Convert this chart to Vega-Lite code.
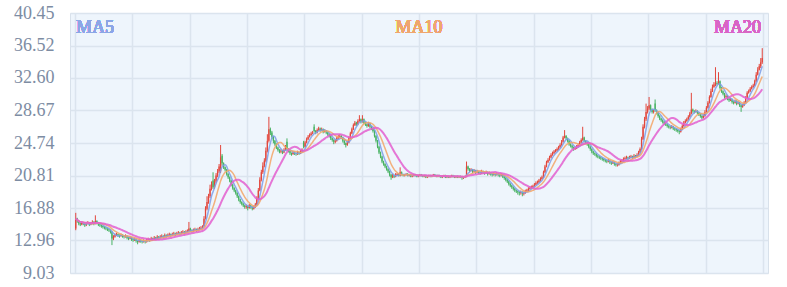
{
"$schema": "https://vega.github.io/schema/vega-lite/v6.json",
"width": 698, "height": 260,
"autosize": "none",
"padding": {"left": 70, "top": 13, "right": 19, "bottom": 14},
"background": "white",
"config": {"view": {"fill": "#eef5fc", "stroke": "#d8e1eb"}, "font": "Liberation Serif"},
"data": {"values": [
{"i":0,"o":14.4,"c":15.6,"h":16.3,"l":14.2},{"i":1,"o":15.6,"c":15.3,"h":15.7,"l":15.1},{"i":2,"o":15.3,"c":15.0,"h":15.4,"l":14.8},{"i":3,"o":15.0,"c":14.9,"h":15.1,"l":14.7},{"i":4,"o":14.9,"c":15.1,"h":15.3,"l":14.8},{"i":5,"o":15.1,"c":15.0,"h":15.2,"l":14.8},{"i":6,"o":15.0,"c":14.8,"h":15.1,"l":14.6},{"i":7,"o":14.8,"c":15.0,"h":15.2,"l":14.7},{"i":8,"o":15.0,"c":15.1,"h":15.3,"l":14.9},{"i":9,"o":15.1,"c":14.9,"h":15.2,"l":14.7},
{"i":10,"o":14.9,"c":15.0,"h":15.2,"l":14.8},{"i":11,"o":15.0,"c":15.2,"h":15.4,"l":14.9},{"i":12,"o":15.2,"c":15.0,"h":15.3,"l":14.8},{"i":13,"o":15.0,"c":15.3,"h":16.0,"l":14.9},{"i":14,"o":15.3,"c":15.1,"h":15.4,"l":14.9},{"i":15,"o":15.1,"c":14.9,"h":15.2,"l":14.7},{"i":16,"o":14.9,"c":14.8,"h":15.0,"l":14.6},{"i":17,"o":14.8,"c":14.7,"h":14.9,"l":14.5},{"i":18,"o":14.7,"c":14.6,"h":14.8,"l":14.4},{"i":19,"o":14.6,"c":14.5,"h":14.7,"l":14.3},
{"i":20,"o":14.5,"c":14.4,"h":14.6,"l":14.2},{"i":21,"o":14.4,"c":14.3,"h":14.5,"l":14.1},{"i":22,"o":14.3,"c":14.2,"h":14.4,"l":14.0},{"i":23,"o":14.2,"c":14.0,"h":14.3,"l":13.8},{"i":24,"o":14.0,"c":13.2,"h":14.1,"l":12.4},{"i":25,"o":13.2,"c":13.4,"h":13.6,"l":13.0},{"i":26,"o":13.4,"c":13.6,"h":13.8,"l":13.3},{"i":27,"o":13.6,"c":13.7,"h":13.9,"l":13.5},{"i":28,"o":13.7,"c":13.6,"h":13.8,"l":13.4},{"i":29,"o":13.6,"c":13.5,"h":13.7,"l":13.3},
{"i":30,"o":13.5,"c":13.6,"h":13.8,"l":13.4},{"i":31,"o":13.6,"c":13.5,"h":13.7,"l":13.3},{"i":32,"o":13.5,"c":13.4,"h":13.6,"l":13.2},{"i":33,"o":13.4,"c":13.5,"h":13.7,"l":13.3},{"i":34,"o":13.5,"c":13.3,"h":13.6,"l":13.1},{"i":35,"o":13.3,"c":13.2,"h":13.4,"l":13.0},{"i":36,"o":13.2,"c":13.3,"h":13.5,"l":13.1},{"i":37,"o":13.3,"c":13.1,"h":13.4,"l":12.9},{"i":38,"o":13.1,"c":13.0,"h":13.2,"l":12.8},{"i":39,"o":13.0,"c":13.1,"h":13.3,"l":12.9},
{"i":40,"o":13.1,"c":12.9,"h":13.2,"l":12.7},{"i":41,"o":12.9,"c":12.8,"h":13.0,"l":12.5},{"i":42,"o":12.8,"c":13.0,"h":13.2,"l":12.7},{"i":43,"o":13.0,"c":12.9,"h":13.1,"l":12.7},{"i":44,"o":12.9,"c":12.8,"h":13.0,"l":12.6},{"i":45,"o":12.8,"c":12.9,"h":13.1,"l":12.7},{"i":46,"o":12.9,"c":12.8,"h":13.0,"l":12.6},{"i":47,"o":12.8,"c":13.0,"h":13.2,"l":12.7},{"i":48,"o":13.0,"c":13.1,"h":13.3,"l":12.9},{"i":49,"o":13.1,"c":13.0,"h":13.2,"l":12.8},
{"i":50,"o":13.0,"c":13.2,"h":13.4,"l":12.9},{"i":51,"o":13.2,"c":13.1,"h":13.3,"l":12.9},{"i":52,"o":13.1,"c":13.3,"h":13.5,"l":13.0},{"i":53,"o":13.3,"c":13.2,"h":13.4,"l":13.0},{"i":54,"o":13.2,"c":13.4,"h":13.6,"l":13.1},{"i":55,"o":13.4,"c":13.3,"h":13.5,"l":13.1},{"i":56,"o":13.3,"c":13.4,"h":13.6,"l":13.2},{"i":57,"o":13.4,"c":13.5,"h":13.7,"l":13.3},{"i":58,"o":13.5,"c":13.4,"h":13.6,"l":13.2},{"i":59,"o":13.4,"c":13.6,"h":13.8,"l":13.3},
{"i":60,"o":13.6,"c":13.5,"h":13.7,"l":13.3},{"i":61,"o":13.5,"c":13.6,"h":13.8,"l":13.4},{"i":62,"o":13.6,"c":13.7,"h":13.9,"l":13.5},{"i":63,"o":13.7,"c":13.6,"h":13.8,"l":13.4},{"i":64,"o":13.6,"c":13.7,"h":13.9,"l":13.5},{"i":65,"o":13.7,"c":13.8,"h":14.0,"l":13.6},{"i":66,"o":13.8,"c":13.7,"h":13.9,"l":13.5},{"i":67,"o":13.7,"c":13.8,"h":14.0,"l":13.6},{"i":68,"o":13.8,"c":13.9,"h":14.1,"l":13.7},{"i":69,"o":13.9,"c":13.8,"h":14.0,"l":13.6},
{"i":70,"o":13.8,"c":13.9,"h":14.1,"l":13.7},{"i":71,"o":13.9,"c":14.0,"h":14.2,"l":13.8},{"i":72,"o":14.0,"c":13.9,"h":14.1,"l":13.7},{"i":73,"o":13.9,"c":14.0,"h":14.2,"l":13.8},{"i":74,"o":14.0,"c":14.1,"h":14.3,"l":13.9},{"i":75,"o":14.1,"c":14.4,"h":15.2,"l":14.0},{"i":76,"o":14.4,"c":14.2,"h":14.5,"l":14.0},{"i":77,"o":14.2,"c":14.1,"h":14.3,"l":13.9},{"i":78,"o":14.1,"c":14.2,"h":14.4,"l":14.0},{"i":79,"o":14.2,"c":14.3,"h":14.5,"l":14.1},
{"i":80,"o":14.3,"c":14.2,"h":14.4,"l":14.0},{"i":81,"o":14.2,"c":14.3,"h":14.5,"l":14.1},{"i":82,"o":14.3,"c":14.4,"h":14.6,"l":14.2},{"i":83,"o":14.4,"c":14.5,"h":14.7,"l":14.3},{"i":84,"o":14.5,"c":14.6,"h":14.8,"l":14.4},{"i":85,"o":14.7,"c":15.6,"h":15.9,"l":14.6},{"i":86,"o":15.6,"c":16.8,"h":17.1,"l":15.5},{"i":87,"o":16.8,"c":17.6,"h":18.3,"l":16.6},{"i":88,"o":17.6,"c":18.3,"h":18.6,"l":17.4},{"i":89,"o":18.3,"c":19.2,"h":19.7,"l":18.1},
{"i":90,"o":19.2,"c":19.8,"h":20.1,"l":19.0},{"i":91,"o":20.2,"c":19.4,"h":21.2,"l":19.2},{"i":92,"o":19.4,"c":20.1,"h":20.4,"l":19.2},{"i":93,"o":20.1,"c":20.8,"h":21.1,"l":19.9},{"i":94,"o":20.8,"c":21.3,"h":21.6,"l":20.6},{"i":95,"o":21.3,"c":21.9,"h":22.2,"l":21.1},{"i":96,"o":21.3,"c":23.0,"h":24.5,"l":21.1},{"i":97,"o":23.2,"c":22.3,"h":23.4,"l":22.0},{"i":98,"o":22.3,"c":21.8,"h":22.4,"l":21.6},{"i":99,"o":21.8,"c":21.5,"h":21.9,"l":21.3},
{"i":100,"o":21.5,"c":21.0,"h":21.6,"l":20.8},{"i":101,"o":21.0,"c":20.6,"h":21.1,"l":20.4},{"i":102,"o":20.6,"c":20.2,"h":20.7,"l":20.0},{"i":103,"o":20.2,"c":19.7,"h":20.3,"l":19.5},{"i":104,"o":19.7,"c":19.3,"h":19.8,"l":19.1},{"i":105,"o":19.3,"c":19.0,"h":19.4,"l":18.8},{"i":106,"o":19.0,"c":18.7,"h":19.1,"l":18.5},{"i":107,"o":18.7,"c":18.3,"h":18.8,"l":18.1},{"i":108,"o":18.3,"c":17.9,"h":18.4,"l":17.7},{"i":109,"o":17.9,"c":17.6,"h":18.0,"l":17.4},
{"i":110,"o":17.6,"c":17.4,"h":17.7,"l":17.2},{"i":111,"o":17.4,"c":17.2,"h":17.5,"l":17.0},{"i":112,"o":17.2,"c":17.0,"h":17.3,"l":16.8},{"i":113,"o":17.0,"c":17.1,"h":17.3,"l":16.8},{"i":114,"o":17.1,"c":16.9,"h":17.2,"l":16.6},{"i":115,"o":16.9,"c":17.2,"h":17.4,"l":16.8},{"i":116,"o":17.2,"c":17.0,"h":17.3,"l":16.8},{"i":117,"o":17.0,"c":16.8,"h":17.1,"l":16.6},{"i":118,"o":16.8,"c":17.0,"h":17.2,"l":16.7},{"i":119,"o":17.0,"c":17.3,"h":17.5,"l":16.9},
{"i":120,"o":17.3,"c":18.0,"h":18.3,"l":17.2},{"i":121,"o":18.0,"c":19.0,"h":19.3,"l":17.9},{"i":122,"o":19.0,"c":20.3,"h":20.6,"l":18.9},{"i":123,"o":20.3,"c":21.2,"h":21.5,"l":20.1},{"i":124,"o":21.2,"c":22.0,"h":22.4,"l":21.0},{"i":125,"o":22.0,"c":22.6,"h":22.9,"l":21.8},{"i":126,"o":22.6,"c":23.8,"h":24.2,"l":22.4},{"i":127,"o":23.8,"c":25.0,"h":25.8,"l":23.6},{"i":128,"o":25.0,"c":26.4,"h":27.9,"l":24.8},{"i":129,"o":26.4,"c":26.0,"h":26.6,"l":25.7},
{"i":130,"o":26.0,"c":25.5,"h":26.2,"l":25.2},{"i":131,"o":25.5,"c":25.0,"h":25.6,"l":24.7},{"i":132,"o":25.0,"c":24.6,"h":25.1,"l":24.4},{"i":133,"o":24.6,"c":24.2,"h":24.7,"l":24.0},{"i":134,"o":24.2,"c":23.9,"h":24.3,"l":23.7},{"i":135,"o":23.9,"c":23.7,"h":24.0,"l":23.5},{"i":136,"o":23.7,"c":23.8,"h":24.0,"l":23.5},{"i":137,"o":23.8,"c":23.6,"h":23.9,"l":23.4},{"i":138,"o":23.6,"c":23.9,"h":24.1,"l":23.5},{"i":139,"o":23.9,"c":24.3,"h":24.5,"l":23.8},
{"i":140,"o":24.9,"c":24.0,"h":25.3,"l":23.8},{"i":141,"o":24.0,"c":23.8,"h":24.1,"l":23.6},{"i":142,"o":23.8,"c":23.5,"h":23.9,"l":23.3},{"i":143,"o":23.5,"c":23.4,"h":23.6,"l":23.2},{"i":144,"o":23.4,"c":23.6,"h":23.8,"l":23.3},{"i":145,"o":23.6,"c":23.5,"h":23.7,"l":23.3},{"i":146,"o":23.5,"c":23.4,"h":23.6,"l":23.2},{"i":147,"o":23.4,"c":23.6,"h":23.8,"l":23.3},{"i":148,"o":23.6,"c":23.5,"h":23.7,"l":23.3},{"i":149,"o":23.5,"c":23.7,"h":23.9,"l":23.4},
{"i":150,"o":23.7,"c":23.9,"h":24.1,"l":23.6},{"i":151,"o":24.8,"c":24.3,"h":25.0,"l":24.1},{"i":152,"o":24.3,"c":24.8,"h":25.0,"l":24.2},{"i":153,"o":24.8,"c":25.2,"h":25.4,"l":24.7},{"i":154,"o":25.2,"c":25.5,"h":25.7,"l":25.1},{"i":155,"o":25.5,"c":25.7,"h":25.9,"l":25.4},{"i":156,"o":25.7,"c":25.9,"h":26.1,"l":25.6},{"i":157,"o":25.9,"c":26.0,"h":26.2,"l":25.8},{"i":158,"o":26.7,"c":26.2,"h":27.0,"l":26.0},{"i":159,"o":26.2,"c":26.0,"h":26.3,"l":25.8},
{"i":160,"o":26.0,"c":26.3,"h":26.5,"l":25.9},{"i":161,"o":26.3,"c":26.5,"h":26.7,"l":26.2},{"i":162,"o":26.5,"c":26.3,"h":26.6,"l":26.1},{"i":163,"o":26.3,"c":26.4,"h":26.6,"l":26.2},{"i":164,"o":26.4,"c":26.1,"h":26.5,"l":25.9},{"i":165,"o":26.1,"c":26.2,"h":26.4,"l":26.0},{"i":166,"o":26.2,"c":26.0,"h":26.3,"l":25.8},{"i":167,"o":26.0,"c":25.8,"h":26.1,"l":25.6},{"i":168,"o":25.8,"c":25.6,"h":25.9,"l":25.4},{"i":169,"o":25.6,"c":25.3,"h":25.7,"l":25.1},
{"i":170,"o":25.3,"c":25.1,"h":25.4,"l":24.9},{"i":171,"o":25.1,"c":24.9,"h":25.2,"l":24.6},{"i":172,"o":24.9,"c":25.0,"h":25.2,"l":24.7},{"i":173,"o":25.0,"c":25.3,"h":25.5,"l":24.9},{"i":174,"o":25.3,"c":25.5,"h":25.7,"l":25.2},{"i":175,"o":25.5,"c":25.6,"h":25.8,"l":25.4},{"i":176,"o":25.6,"c":25.4,"h":25.7,"l":25.2},{"i":177,"o":25.4,"c":25.0,"h":25.5,"l":24.8},{"i":178,"o":25.0,"c":24.7,"h":25.1,"l":24.5},{"i":179,"o":24.7,"c":24.5,"h":24.8,"l":24.2},
{"i":180,"o":24.5,"c":24.8,"h":25.0,"l":24.4},{"i":181,"o":24.8,"c":25.3,"h":25.5,"l":24.7},{"i":182,"o":25.3,"c":25.9,"h":26.1,"l":25.2},{"i":183,"o":25.9,"c":26.4,"h":26.6,"l":25.8},{"i":184,"o":26.4,"c":26.9,"h":27.1,"l":26.3},{"i":185,"o":26.9,"c":27.2,"h":27.4,"l":26.8},{"i":186,"o":27.2,"c":27.0,"h":27.3,"l":26.8},{"i":187,"o":27.0,"c":27.4,"h":27.6,"l":26.9},{"i":188,"o":27.4,"c":27.6,"h":28.1,"l":27.3},{"i":189,"o":27.6,"c":27.3,"h":27.7,"l":27.1},
{"i":190,"o":27.3,"c":27.6,"h":28.1,"l":27.2},{"i":191,"o":27.6,"c":27.2,"h":27.7,"l":27.0},{"i":192,"o":27.2,"c":27.0,"h":27.3,"l":26.8},{"i":193,"o":27.0,"c":26.8,"h":27.1,"l":26.6},{"i":194,"o":26.8,"c":27.1,"h":27.3,"l":26.7},{"i":195,"o":27.1,"c":26.7,"h":27.2,"l":26.5},{"i":196,"o":26.7,"c":26.5,"h":26.8,"l":26.3},{"i":197,"o":26.5,"c":26.2,"h":26.6,"l":26.0},{"i":198,"o":26.2,"c":25.6,"h":26.3,"l":25.4},{"i":199,"o":25.6,"c":25.0,"h":25.7,"l":24.8},
{"i":200,"o":25.0,"c":24.3,"h":25.1,"l":24.1},{"i":201,"o":24.3,"c":23.6,"h":24.4,"l":23.4},{"i":202,"o":23.6,"c":23.1,"h":23.7,"l":22.9},{"i":203,"o":23.1,"c":22.5,"h":23.2,"l":22.3},{"i":204,"o":22.5,"c":22.2,"h":22.6,"l":22.0},{"i":205,"o":22.2,"c":21.9,"h":22.3,"l":21.7},{"i":206,"o":21.9,"c":21.6,"h":22.0,"l":21.4},{"i":207,"o":21.6,"c":21.3,"h":21.7,"l":21.1},{"i":208,"o":21.3,"c":20.9,"h":21.4,"l":20.7},{"i":209,"o":20.9,"c":20.6,"h":21.0,"l":20.3},
{"i":210,"o":20.6,"c":20.8,"h":21.0,"l":20.5},{"i":211,"o":20.8,"c":20.7,"h":20.9,"l":20.5},{"i":212,"o":20.7,"c":20.9,"h":21.1,"l":20.6},{"i":213,"o":20.9,"c":21.0,"h":21.1,"l":20.8},{"i":214,"o":21.0,"c":20.8,"h":21.1,"l":20.7},{"i":215,"o":20.8,"c":21.2,"h":21.8,"l":20.7},{"i":216,"o":21.2,"c":20.9,"h":21.3,"l":20.8},{"i":217,"o":20.9,"c":20.8,"h":21.0,"l":20.7},{"i":218,"o":20.8,"c":20.9,"h":21.0,"l":20.7},{"i":219,"o":20.9,"c":21.0,"h":21.1,"l":20.8},
{"i":220,"o":21.0,"c":20.8,"h":21.1,"l":20.7},{"i":221,"o":20.8,"c":20.9,"h":21.0,"l":20.7},{"i":222,"o":20.9,"c":20.7,"h":21.0,"l":20.6},{"i":223,"o":20.7,"c":20.8,"h":20.9,"l":20.6},{"i":224,"o":20.8,"c":20.9,"h":21.0,"l":20.7},{"i":225,"o":20.9,"c":20.8,"h":21.0,"l":20.7},{"i":226,"o":20.8,"c":20.7,"h":20.9,"l":20.6},{"i":227,"o":20.7,"c":20.8,"h":20.9,"l":20.6},{"i":228,"o":20.8,"c":20.9,"h":21.0,"l":20.7},{"i":229,"o":20.9,"c":20.8,"h":21.0,"l":20.7},
{"i":230,"o":20.8,"c":20.7,"h":20.9,"l":20.6},{"i":231,"o":20.7,"c":20.8,"h":20.9,"l":20.6},{"i":232,"o":20.8,"c":20.6,"h":20.9,"l":20.5},{"i":233,"o":20.6,"c":20.7,"h":20.8,"l":20.5},{"i":234,"o":20.7,"c":20.8,"h":20.9,"l":20.6},{"i":235,"o":20.8,"c":20.7,"h":20.9,"l":20.6},{"i":236,"o":20.7,"c":20.8,"h":20.9,"l":20.6},{"i":237,"o":20.8,"c":20.9,"h":21.0,"l":20.7},{"i":238,"o":20.9,"c":20.8,"h":21.0,"l":20.7},{"i":239,"o":20.8,"c":20.7,"h":20.9,"l":20.6},
{"i":240,"o":20.7,"c":20.8,"h":20.9,"l":20.6},{"i":241,"o":20.8,"c":20.7,"h":20.9,"l":20.6},{"i":242,"o":20.7,"c":20.6,"h":20.8,"l":20.5},{"i":243,"o":20.6,"c":20.7,"h":20.8,"l":20.5},{"i":244,"o":20.7,"c":20.8,"h":20.9,"l":20.6},{"i":245,"o":20.8,"c":20.6,"h":20.9,"l":20.5},{"i":246,"o":20.6,"c":20.7,"h":20.8,"l":20.5},{"i":247,"o":20.7,"c":20.6,"h":20.8,"l":20.5},{"i":248,"o":20.6,"c":20.7,"h":20.8,"l":20.5},{"i":249,"o":20.7,"c":20.8,"h":20.9,"l":20.6},
{"i":250,"o":20.8,"c":20.7,"h":20.9,"l":20.6},{"i":251,"o":20.7,"c":20.6,"h":20.8,"l":20.5},{"i":252,"o":20.6,"c":20.7,"h":20.8,"l":20.5},{"i":253,"o":20.7,"c":20.6,"h":20.8,"l":20.5},{"i":254,"o":20.6,"c":20.7,"h":20.8,"l":20.5},{"i":255,"o":20.7,"c":20.6,"h":20.8,"l":20.5},{"i":256,"o":20.6,"c":20.5,"h":20.7,"l":20.3},{"i":257,"o":20.5,"c":20.6,"h":20.7,"l":20.4},{"i":258,"o":20.6,"c":20.7,"h":20.8,"l":20.5},{"i":259,"o":20.7,"c":21.9,"h":22.5,"l":20.6},
{"i":260,"o":21.9,"c":21.6,"h":22.0,"l":21.4},{"i":261,"o":21.6,"c":21.4,"h":21.7,"l":21.2},{"i":262,"o":21.4,"c":21.5,"h":21.7,"l":21.3},{"i":263,"o":21.5,"c":21.3,"h":21.6,"l":21.1},{"i":264,"o":21.3,"c":21.4,"h":21.6,"l":21.2},{"i":265,"o":21.4,"c":21.2,"h":21.5,"l":21.0},{"i":266,"o":21.2,"c":21.3,"h":21.5,"l":21.1},{"i":267,"o":21.3,"c":21.2,"h":21.4,"l":21.0},{"i":268,"o":21.2,"c":21.1,"h":21.3,"l":20.9},{"i":269,"o":21.1,"c":21.3,"h":21.5,"l":21.0},
{"i":270,"o":21.3,"c":21.2,"h":21.4,"l":21.0},{"i":271,"o":21.2,"c":21.1,"h":21.3,"l":20.9},{"i":272,"o":21.1,"c":21.2,"h":21.4,"l":21.0},{"i":273,"o":21.2,"c":21.0,"h":21.3,"l":20.8},{"i":274,"o":21.0,"c":21.1,"h":21.3,"l":20.9},{"i":275,"o":21.1,"c":21.0,"h":21.2,"l":20.8},{"i":276,"o":21.0,"c":20.9,"h":21.1,"l":20.7},{"i":277,"o":20.9,"c":21.0,"h":21.2,"l":20.8},{"i":278,"o":21.0,"c":20.9,"h":21.1,"l":20.7},{"i":279,"o":20.9,"c":21.0,"h":21.2,"l":20.8},
{"i":280,"o":21.0,"c":20.9,"h":21.1,"l":20.7},{"i":281,"o":20.9,"c":20.8,"h":21.0,"l":20.6},{"i":282,"o":20.8,"c":20.9,"h":21.1,"l":20.7},{"i":283,"o":20.9,"c":20.7,"h":21.0,"l":20.5},{"i":284,"o":20.7,"c":20.5,"h":20.8,"l":20.3},{"i":285,"o":20.5,"c":20.3,"h":20.6,"l":20.1},{"i":286,"o":20.3,"c":20.1,"h":20.4,"l":19.9},{"i":287,"o":20.1,"c":19.8,"h":20.2,"l":19.6},{"i":288,"o":19.8,"c":19.6,"h":19.9,"l":19.4},{"i":289,"o":19.6,"c":19.4,"h":19.7,"l":19.2},
{"i":290,"o":19.4,"c":19.2,"h":19.5,"l":19.0},{"i":291,"o":19.2,"c":19.0,"h":19.3,"l":18.8},{"i":292,"o":19.0,"c":18.9,"h":19.1,"l":18.7},{"i":293,"o":18.9,"c":18.8,"h":19.0,"l":18.5},{"i":294,"o":18.8,"c":18.7,"h":18.9,"l":18.4},{"i":295,"o":18.7,"c":18.8,"h":19.0,"l":18.5},{"i":296,"o":18.8,"c":18.6,"h":18.9,"l":18.3},{"i":297,"o":18.6,"c":18.7,"h":18.9,"l":18.4},{"i":298,"o":18.7,"c":18.9,"h":19.1,"l":18.6},{"i":299,"o":18.9,"c":19.0,"h":19.2,"l":18.8},
{"i":300,"o":19.0,"c":19.2,"h":19.4,"l":18.9},{"i":301,"o":19.2,"c":19.3,"h":19.5,"l":19.1},{"i":302,"o":19.3,"c":19.4,"h":19.6,"l":19.2},{"i":303,"o":19.4,"c":19.5,"h":19.7,"l":19.3},{"i":304,"o":19.5,"c":19.7,"h":19.9,"l":19.4},{"i":305,"o":19.7,"c":19.9,"h":20.1,"l":19.6},{"i":306,"o":19.9,"c":20.0,"h":20.2,"l":19.8},{"i":307,"o":20.0,"c":20.2,"h":20.4,"l":19.9},{"i":308,"o":20.2,"c":20.4,"h":20.6,"l":20.1},{"i":309,"o":20.4,"c":20.6,"h":20.8,"l":20.3},
{"i":310,"o":20.6,"c":21.2,"h":21.4,"l":20.5},{"i":311,"o":21.2,"c":21.9,"h":22.1,"l":21.1},{"i":312,"o":21.9,"c":22.4,"h":22.6,"l":21.8},{"i":313,"o":22.4,"c":22.7,"h":22.9,"l":22.3},{"i":314,"o":22.7,"c":23.0,"h":23.2,"l":22.6},{"i":315,"o":23.0,"c":23.3,"h":23.5,"l":22.9},{"i":316,"o":23.3,"c":23.5,"h":23.7,"l":23.2},{"i":317,"o":23.5,"c":23.7,"h":23.9,"l":23.4},{"i":318,"o":23.7,"c":23.8,"h":24.0,"l":23.6},{"i":319,"o":23.8,"c":24.0,"h":24.2,"l":23.7},
{"i":320,"o":24.0,"c":24.2,"h":24.4,"l":23.9},{"i":321,"o":24.2,"c":24.5,"h":24.7,"l":24.1},{"i":322,"o":24.5,"c":24.9,"h":25.1,"l":24.4},{"i":323,"o":24.9,"c":25.4,"h":25.6,"l":24.8},{"i":324,"o":25.4,"c":25.6,"h":26.3,"l":25.3},{"i":325,"o":25.6,"c":25.3,"h":25.7,"l":25.1},{"i":326,"o":25.3,"c":25.0,"h":25.4,"l":24.8},{"i":327,"o":25.0,"c":24.6,"h":25.1,"l":24.4},{"i":328,"o":24.6,"c":24.4,"h":24.7,"l":24.2},{"i":329,"o":24.4,"c":24.2,"h":24.5,"l":24.0},
{"i":330,"o":24.2,"c":24.0,"h":24.3,"l":23.8},{"i":331,"o":24.0,"c":24.1,"h":24.3,"l":23.9},{"i":332,"o":24.1,"c":24.3,"h":24.5,"l":24.0},{"i":333,"o":24.3,"c":24.5,"h":24.7,"l":24.2},{"i":334,"o":24.5,"c":24.8,"h":25.0,"l":24.4},{"i":335,"o":24.8,"c":25.1,"h":25.3,"l":24.7},{"i":336,"o":25.1,"c":25.4,"h":26.7,"l":25.0},{"i":337,"o":25.4,"c":25.0,"h":25.5,"l":24.8},{"i":338,"o":25.0,"c":24.8,"h":25.1,"l":24.6},{"i":339,"o":24.8,"c":24.6,"h":24.9,"l":24.4},
{"i":340,"o":24.6,"c":24.3,"h":24.7,"l":24.1},{"i":341,"o":24.3,"c":24.0,"h":24.4,"l":23.8},{"i":342,"o":24.0,"c":23.7,"h":24.1,"l":23.5},{"i":343,"o":23.7,"c":23.5,"h":23.8,"l":23.3},{"i":344,"o":23.5,"c":23.4,"h":23.6,"l":23.2},{"i":345,"o":23.4,"c":23.2,"h":23.5,"l":23.0},{"i":346,"o":23.2,"c":23.1,"h":23.3,"l":22.9},{"i":347,"o":23.1,"c":23.0,"h":23.2,"l":22.8},{"i":348,"o":23.0,"c":22.9,"h":23.1,"l":22.7},{"i":349,"o":22.9,"c":22.8,"h":23.0,"l":22.6},
{"i":350,"o":22.8,"c":22.7,"h":22.9,"l":22.5},{"i":351,"o":22.7,"c":22.6,"h":22.8,"l":22.4},{"i":352,"o":22.6,"c":22.5,"h":22.7,"l":22.3},{"i":353,"o":22.5,"c":22.6,"h":22.8,"l":22.4},{"i":354,"o":22.6,"c":22.4,"h":22.7,"l":22.2},{"i":355,"o":22.4,"c":22.3,"h":22.5,"l":22.1},{"i":356,"o":22.3,"c":22.4,"h":22.6,"l":22.2},{"i":357,"o":22.4,"c":22.2,"h":22.5,"l":22.0},{"i":358,"o":22.2,"c":22.1,"h":22.3,"l":21.9},{"i":359,"o":22.1,"c":22.1,"h":22.3,"l":21.9},
{"i":360,"o":22.1,"c":22.3,"h":22.5,"l":22.0},{"i":361,"o":22.3,"c":22.5,"h":22.7,"l":22.2},{"i":362,"o":22.5,"c":22.6,"h":22.8,"l":22.4},{"i":363,"o":22.6,"c":22.8,"h":23.0,"l":22.5},{"i":364,"o":22.8,"c":22.9,"h":23.1,"l":22.7},{"i":365,"o":22.9,"c":23.0,"h":23.2,"l":22.8},{"i":366,"o":23.0,"c":22.9,"h":23.1,"l":22.7},{"i":367,"o":22.9,"c":23.0,"h":23.2,"l":22.8},{"i":368,"o":23.0,"c":23.1,"h":23.3,"l":22.9},{"i":369,"o":23.1,"c":23.0,"h":23.2,"l":22.8},
{"i":370,"o":23.0,"c":23.2,"h":23.4,"l":22.9},{"i":371,"o":23.2,"c":23.1,"h":23.3,"l":22.9},{"i":372,"o":23.1,"c":23.3,"h":23.5,"l":23.0},{"i":373,"o":23.3,"c":23.6,"h":23.8,"l":23.2},{"i":374,"o":23.6,"c":24.0,"h":24.2,"l":23.5},{"i":375,"o":24.0,"c":25.2,"h":25.5,"l":23.9},{"i":376,"o":25.2,"c":26.7,"h":27.0,"l":25.1},{"i":377,"o":26.7,"c":27.6,"h":27.9,"l":26.5},{"i":378,"o":27.6,"c":28.5,"h":29.5,"l":27.4},{"i":379,"o":28.5,"c":28.9,"h":29.2,"l":28.3},
{"i":380,"o":28.9,"c":29.3,"h":30.3,"l":28.7},{"i":381,"o":29.3,"c":28.8,"h":29.4,"l":28.6},{"i":382,"o":28.8,"c":28.5,"h":28.9,"l":28.3},{"i":383,"o":28.5,"c":28.6,"h":28.8,"l":28.3},{"i":384,"o":29.5,"c":28.7,"h":30.0,"l":28.5},{"i":385,"o":28.7,"c":28.4,"h":28.8,"l":28.2},{"i":386,"o":28.4,"c":28.0,"h":28.5,"l":27.8},{"i":387,"o":28.0,"c":27.7,"h":28.1,"l":27.5},{"i":388,"o":27.7,"c":27.5,"h":27.8,"l":27.3},{"i":389,"o":27.5,"c":27.3,"h":27.6,"l":27.1},
{"i":390,"o":27.3,"c":27.1,"h":27.4,"l":26.9},{"i":391,"o":27.1,"c":27.0,"h":27.2,"l":26.8},{"i":392,"o":27.0,"c":26.8,"h":27.1,"l":26.6},{"i":393,"o":26.8,"c":26.7,"h":26.9,"l":26.5},{"i":394,"o":26.7,"c":26.6,"h":26.8,"l":26.4},{"i":395,"o":26.6,"c":26.7,"h":26.9,"l":26.5},{"i":396,"o":26.7,"c":26.5,"h":26.8,"l":26.3},{"i":397,"o":26.5,"c":26.4,"h":26.6,"l":26.2},{"i":398,"o":26.4,"c":26.3,"h":26.5,"l":26.1},{"i":399,"o":26.3,"c":26.2,"h":26.4,"l":26.0},
{"i":400,"o":26.2,"c":26.1,"h":26.3,"l":25.8},{"i":401,"o":26.1,"c":26.4,"h":26.6,"l":26.0},{"i":402,"o":26.4,"c":26.8,"h":27.0,"l":26.3},{"i":403,"o":26.8,"c":27.2,"h":27.4,"l":26.7},{"i":404,"o":27.2,"c":27.4,"h":27.6,"l":27.1},{"i":405,"o":27.4,"c":27.6,"h":27.8,"l":27.3},{"i":406,"o":27.6,"c":27.9,"h":28.1,"l":27.5},{"i":407,"o":27.9,"c":28.3,"h":28.5,"l":27.8},{"i":408,"o":28.3,"c":28.8,"h":30.8,"l":28.2},{"i":409,"o":28.8,"c":28.6,"h":28.9,"l":28.4},
{"i":410,"o":28.6,"c":28.5,"h":28.7,"l":28.3},{"i":411,"o":28.5,"c":28.6,"h":28.8,"l":28.4},{"i":412,"o":28.6,"c":28.4,"h":28.7,"l":28.2},{"i":413,"o":28.4,"c":28.2,"h":28.5,"l":28.0},{"i":414,"o":28.2,"c":28.0,"h":28.3,"l":27.8},{"i":415,"o":28.0,"c":27.8,"h":28.1,"l":27.6},{"i":416,"o":27.8,"c":28.0,"h":28.2,"l":27.7},{"i":417,"o":28.0,"c":28.5,"h":28.7,"l":27.9},{"i":418,"o":28.5,"c":29.0,"h":29.2,"l":28.4},{"i":419,"o":29.0,"c":29.6,"h":29.8,"l":28.9},
{"i":420,"o":29.6,"c":30.3,"h":30.5,"l":29.5},{"i":421,"o":30.3,"c":31.0,"h":31.3,"l":30.2},{"i":422,"o":31.0,"c":31.5,"h":31.8,"l":30.9},{"i":423,"o":31.5,"c":31.8,"h":32.1,"l":31.4},{"i":424,"o":31.8,"c":32.0,"h":33.9,"l":31.6},{"i":425,"o":32.0,"c":31.9,"h":32.2,"l":31.7},{"i":426,"o":31.9,"c":32.2,"h":33.3,"l":31.8},{"i":427,"o":32.2,"c":31.4,"h":32.3,"l":31.2},{"i":428,"o":31.4,"c":31.0,"h":31.5,"l":30.8},{"i":429,"o":31.0,"c":30.7,"h":31.1,"l":30.5},
{"i":430,"o":30.7,"c":30.3,"h":30.8,"l":30.1},{"i":431,"o":30.3,"c":30.4,"h":30.6,"l":30.1},{"i":432,"o":30.4,"c":30.1,"h":30.5,"l":29.9},{"i":433,"o":30.1,"c":29.9,"h":30.2,"l":29.7},{"i":434,"o":29.9,"c":30.0,"h":30.2,"l":29.8},{"i":435,"o":30.0,"c":29.7,"h":30.1,"l":29.5},{"i":436,"o":29.7,"c":29.6,"h":29.8,"l":29.4},{"i":437,"o":29.6,"c":29.8,"h":30.0,"l":29.5},{"i":438,"o":29.8,"c":29.5,"h":29.9,"l":29.3},{"i":439,"o":29.5,"c":29.6,"h":29.8,"l":29.4},
{"i":440,"o":29.6,"c":29.3,"h":29.7,"l":29.1},{"i":441,"o":29.3,"c":29.1,"h":29.4,"l":28.5},{"i":442,"o":29.1,"c":29.3,"h":29.5,"l":29.0},{"i":443,"o":29.3,"c":29.6,"h":29.8,"l":29.2},{"i":444,"o":29.6,"c":30.2,"h":30.4,"l":29.5},{"i":445,"o":30.2,"c":30.8,"h":31.0,"l":30.1},{"i":446,"o":30.8,"c":31.0,"h":31.2,"l":30.7},{"i":447,"o":31.0,"c":31.3,"h":31.5,"l":30.9},{"i":448,"o":31.3,"c":31.5,"h":31.7,"l":31.2},{"i":449,"o":31.5,"c":31.7,"h":31.9,"l":31.4},
{"i":450,"o":31.7,"c":32.2,"h":32.4,"l":31.6},{"i":451,"o":32.2,"c":33.0,"h":33.3,"l":32.1},{"i":452,"o":33.0,"c":33.6,"h":33.9,"l":32.9},{"i":453,"o":33.6,"c":34.0,"h":34.3,"l":33.5},{"i":454,"o":34.0,"c":34.5,"h":35.0,"l":33.8},{"i":455,"o":34.5,"c":35.0,"h":36.2,"l":34.3}
]},
"encoding": {
  "x": {"field": "i", "type": "quantitative",
    "scale": {"domain": [-0.5, 455.5], "nice": false, "zero": false},
    "axis": {"values": [-0.5, 37.5, 75.5, 113.5, 151.5, 189.5, 227.5, 265.5, 303.5, 341.5, 379.5, 417.5, 455.5], "tickCount": 20,
      "labels": false, "ticks": false, "domain": false, "title": null, "grid": true, "gridColor": "#dbe4ee", "gridWidth": 1.5}}
},
"layer": [
  {"mark": {"type": "rule", "strokeWidth": 1},
   "encoding": {
     "y": {"field": "l", "type": "quantitative",
       "scale": {"domain": [9.03, 40.45], "nice": false, "zero": false},
       "axis": {"values": [9.03, 12.96, 16.88, 20.81, 24.74, 28.67, 32.60, 36.52, 40.45], "tickCount": 12, "format": ".2f", "title": null,
         "ticks": false, "domain": false, "labelFont": "Liberation Serif", "labelFontSize": 18, "labelColor": "#7d8ca3",
         "labelPadding": 16, "labelOverlap": false, "labelBound": false, "labelFlush": false,
         "grid": true, "gridColor": "#dbe4ee", "gridWidth": 1.5}},
     "y2": {"field": "h"},
     "color": {"condition": {"test": "datum.c >= datum.o", "value": "#e2463c"}, "value": "#47b262"}
   }},
  {"mark": {"type": "bar", "size": 1.3},
   "encoding": {
     "y": {"field": "o", "type": "quantitative", "title": null},
     "y2": {"field": "c"},
     "color": {"condition": {"test": "datum.c >= datum.o", "value": "#e2463c"}, "value": "#47b262"}
   }},
  {"transform": [{"window": [{"op": "mean", "field": "c", "as": "m"}], "frame": [-4, 0], "sort": [{"field": "i"}]}],
   "mark": {"type": "line", "interpolate": "monotone", "stroke": "#7c9ee6", "strokeWidth": 1.5, "opacity": 0.85},
   "encoding": {"y": {"field": "m", "type": "quantitative", "title": null}}},
  {"transform": [{"window": [{"op": "mean", "field": "c", "as": "m"}], "frame": [-9, 0], "sort": [{"field": "i"}]}],
   "mark": {"type": "line", "interpolate": "monotone", "stroke": "#f3a566", "strokeWidth": 1.5, "opacity": 0.85},
   "encoding": {"y": {"field": "m", "type": "quantitative", "title": null}}},
  {"transform": [{"window": [{"op": "mean", "field": "c", "as": "m"}], "frame": [-19, 0], "sort": [{"field": "i"}]}],
   "mark": {"type": "line", "interpolate": "monotone", "stroke": "#e35fcf", "strokeWidth": 2, "opacity": 0.85},
   "encoding": {"y": {"field": "m", "type": "quantitative", "title": null}}},
  {"mark": {"type": "text", "align": "left", "baseline": "middle", "font": "Liberation Serif", "fontSize": 18, "fontWeight": "normal", "color": "#8ba6e6", "dx": 1},
   "encoding": {"x": {"datum": -0.5, "type": "quantitative"}, "y": {"datum": 38.6, "type": "quantitative"}, "text": {"value": "MA5"}}},
  {"mark": {"type": "text", "align": "center", "baseline": "middle", "font": "Liberation Serif", "fontSize": 18, "fontWeight": "normal", "color": "#f0a66e"},
   "encoding": {"x": {"datum": 227.5, "type": "quantitative"}, "y": {"datum": 38.6, "type": "quantitative"}, "text": {"value": "MA10"}}},
  {"mark": {"type": "text", "align": "right", "baseline": "middle", "font": "Liberation Serif", "fontSize": 18, "fontWeight": "normal", "color": "#d866c4", "dx": -2},
   "encoding": {"x": {"datum": 455.5, "type": "quantitative"}, "y": {"datum": 38.6, "type": "quantitative"}, "text": {"value": "MA20"}}}
]
}
